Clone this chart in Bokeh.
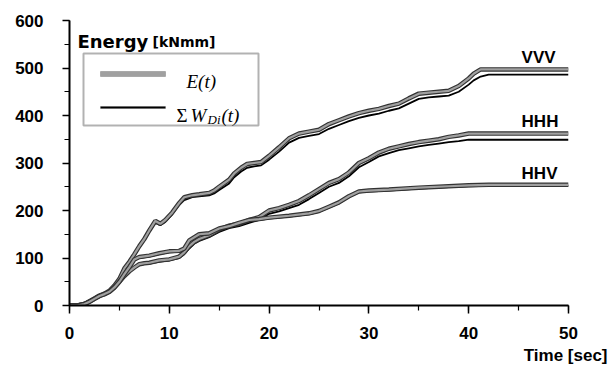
from bokeh.plotting import figure
from bokeh.models import Range1d, SingleIntervalTicker, Label, BoxAnnotation, Title
from bokeh.embed import file_html
from bokeh.resources import INLINE

# ---- data ----
t_vvv = [0, 0.8, 1.5, 2, 2.5, 3, 3.5, 4, 4.5, 5, 5.5, 6, 6.5, 7, 7.5, 8, 8.6, 9.1, 9.6, 10.3,
         11, 11.5, 12.3, 13, 14, 14.5, 15, 16, 16.5, 17.2, 17.8, 18.5, 19.2, 20, 21, 22, 23, 24, 25, 26,
         27, 28, 29, 30, 31, 32, 33, 34, 35, 36, 37, 38, 39, 40, 40.5, 41.2, 42, 50]
E_vvv = [0, 0, 3, 9, 15, 21, 25, 31, 42, 56, 78, 92, 108, 125, 140, 158, 178, 172, 180, 196,
         216, 228, 232, 234, 237, 242, 250, 265, 278, 290, 298, 300, 302, 315, 333, 352, 362, 366, 370, 382,
         390, 398, 405, 410, 414, 420, 425, 436, 446, 448, 450, 452, 462, 478, 488, 497, 497, 497]
W_vvv = [0, 0, 3, 9, 15, 21, 25, 31, 42, 55, 76, 90, 106, 122, 137, 155, 174, 169, 176, 192,
         212, 222, 228, 230, 232, 236, 243, 257, 270, 282, 290, 293, 295, 307, 324, 343, 353, 357, 361, 372,
         380, 388, 395, 400, 404, 410, 415, 425, 435, 438, 440, 442, 450, 465, 474, 482, 486, 486]

t_hhh = [0, 0.8, 1.5, 2, 2.5, 3, 3.5, 4, 4.5, 5, 5.5, 6, 6.5, 7, 7.5, 8, 9, 10, 11, 11.5,
         12, 12.5, 13, 14, 15, 16, 17, 18, 19, 20, 21, 22, 23, 24, 25, 26, 27, 28, 29, 30,
         31, 32, 33, 34, 35, 36, 37, 38, 39, 40, 41, 50]
E_hhh = [0, 0, 3, 8, 14, 20, 24, 29, 38, 50, 62, 72, 80, 87, 89, 90, 95, 97, 103, 112,
         125, 134, 140, 148, 160, 168, 172, 180, 186, 200, 205, 212, 220, 232, 245, 258, 266, 280, 300, 310,
         322, 330, 335, 340, 344, 347, 350, 355, 358, 362, 362, 362]
W_hhh = [0, 0, 3, 8, 14, 20, 24, 29, 38, 50, 62, 71, 79, 85, 87, 88, 92, 95, 100, 108,
         120, 130, 136, 144, 155, 163, 167, 174, 180, 193, 198, 205, 212, 224, 237, 250, 258, 272, 291, 302,
         314, 321, 327, 331, 335, 338, 341, 344, 346, 349, 349, 349]

t_hhv = [0, 0.8, 1.5, 2, 2.5, 3, 3.5, 4, 4.5, 5, 5.5, 6, 6.5, 7, 8, 9, 10, 11, 11.5, 12,
         13, 14, 15, 16, 17, 18, 19, 20, 22, 24, 25, 26, 27, 28, 29, 30, 32, 35, 38, 40, 42, 50]
E_hhv = [0, 0, 3, 8, 14, 20, 24, 29, 38, 50, 66, 81, 97, 102, 105, 110, 114, 115, 120, 137,
         150, 152, 162, 167, 174, 180, 182, 185, 189, 194, 199, 208, 217, 230, 240, 242, 244, 248, 251, 253, 254, 254]
W_hhv = [0, 0, 3, 8, 14, 20, 24, 29, 38, 50, 65, 80, 95, 100, 103, 108, 112, 113, 118, 135,
         148, 150, 160, 165, 172, 178, 180, 183, 187, 192, 197, 206, 215, 228, 238, 240, 242, 246, 249, 251, 252, 252]

series_names = ["VVV", "HHH", "HHV"]
label_pos = [(45.3, 502), (45.3, 367), (45.3, 258)]

W, H = 608, 367
FL, FB = 69, 305   # frame left / frame bottom in page pixels
p = figure(width=W, height=H, output_backend="svg", toolbar_location=None,
           x_range=Range1d(0, 50), y_range=Range1d(0, 600),
           min_border_left=69, min_border_right=40, min_border_top=20, min_border_bottom=62)
p.outline_line_color = None
p.xgrid.visible = False
p.ygrid.visible = False
p.background_fill_color = "white"
p.border_fill_color = "white"

for ax in (p.xaxis[0], p.yaxis[0]):
    ax.axis_line_width = 2
    ax.axis_line_color = "black"
    ax.major_tick_line_width = 1.5
    ax.minor_tick_line_width = 1.2
    ax.major_tick_in = 0
    ax.minor_tick_in = 0
    ax.major_label_text_font = "Liberation Sans"
    ax.major_label_text_font_style = "bold"
    ax.major_label_text_font_size = "17px"
    ax.major_label_text_color = "black"

p.xaxis.ticker = SingleIntervalTicker(interval=10, num_minor_ticks=2)
p.yaxis.ticker = SingleIntervalTicker(interval=100, num_minor_ticks=2)
p.xaxis.major_tick_out = 8
p.xaxis.minor_tick_out = 5
p.yaxis.major_tick_out = 7
p.yaxis.minor_tick_out = 5
p.xaxis.major_label_standoff = 13
p.yaxis.major_label_standoff = 19

for t, e, w in ((t_vvv, E_vvv, W_vvv), (t_hhh, E_hhh, W_hhh), (t_hhv, E_hhv, W_hhv)):
    p.line(t, w, line_color="black", line_width=1.8)
    p.line(t, e, line_color="#333333", line_width=4.5)
    p.line(t, e, line_color="#a0a0a0", line_width=2.2)

for name, (x, y) in zip(series_names, label_pos):
    p.add_layout(Label(x=x, y=y, text=name, text_font="Liberation Sans",
                       text_font_style="bold", text_font_size="17px", text_color="black"))

def slabel(x, y_top, text, font, size, style="normal", align="left"):
    return Label(x=x - FL, y=FB - y_top, x_units="screen", y_units="screen", text=text,
                 text_font=font, text_font_size=size, text_font_style=style,
                 text_align=align, text_baseline="alphabetic", text_color="black")

def sbox(left, right, top, bottom, **kw):
    return BoxAnnotation(left=left - FL, right=right - FL, top=FB - top, bottom=FB - bottom,
                         left_units="screen", right_units="screen", top_units="screen",
                         bottom_units="screen", level="overlay", **kw)

p.add_layout(slabel(77, 41, "Energy", "DejaVu Sans", "18px", "bold"))
p.add_layout(slabel(152, 41, "[kNmm]", "DejaVu Sans", "14px", "bold"))

time_title = Title(text="Time [sec]", align="right", offset=-39, standoff=4,
                   text_font="Liberation Sans", text_font_style="bold", text_font_size="17px",
                   text_color="black")
p.add_layout(time_title, "below")

# legend
p.add_layout(sbox(83, 258, 53, 125, fill_color=None, fill_alpha=0, line_color="black", line_width=2))
p.add_layout(sbox(100, 165, 71, 76, fill_color="#a0a0a0", fill_alpha=1, line_color="#333333", line_width=0.8))
p.add_layout(sbox(100, 165, 106, 108, fill_color="black", fill_alpha=1, line_color="black", line_width=0.5))
p.add_layout(slabel(186, 81, "E(t)", "Liberation Serif", "19px", "italic"))
p.add_layout(slabel(176, 115, "Σ", "Liberation Serif", "19px", "normal"))
p.add_layout(slabel(190, 115, "W", "Liberation Serif", "19px", "italic"))
p.add_layout(slabel(207, 119, "Di", "Liberation Serif", "13px", "italic"))
p.add_layout(slabel(221, 115, "(t)", "Liberation Serif", "19px", "italic"))

open("out.html", "w").write(file_html(p, INLINE))
